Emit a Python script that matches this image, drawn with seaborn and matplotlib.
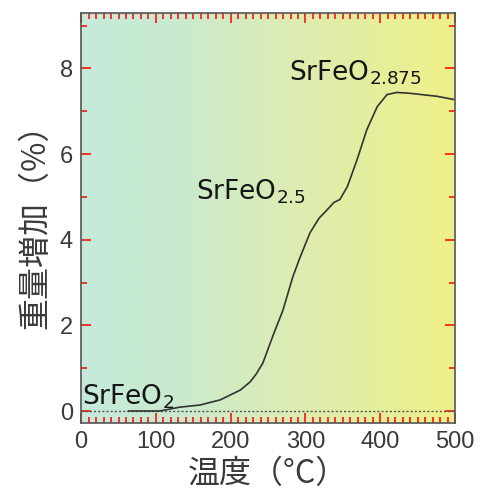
import numpy as np
import matplotlib
matplotlib.use('Agg')
import matplotlib.pyplot as plt
import seaborn as sns
from matplotlib.colors import LinearSegmentedColormap
from matplotlib.ticker import MultipleLocator

# TG curve
temp = [63, 80, 105, 132, 159, 186, 213, 226, 234, 243, 257, 270, 283, 293, 306,
        318, 329, 338, 346, 356, 369, 382, 396, 409, 422, 440, 476, 500]
gain = [0, 0, 0, 0.09, 0.14, 0.26, 0.49, 0.68, 0.86, 1.12, 1.78, 2.36, 3.13, 3.6, 4.16,
        4.50, 4.70, 4.87, 4.94, 5.24, 5.87, 6.57, 7.11, 7.39, 7.44, 7.42, 7.35, 7.27]

# phase labels: (text, x, y)
phase_text = ["SrFeO$_\\mathregular{2}$", "SrFeO$_\\mathregular{2.5}$", "SrFeO$_\\mathregular{2.875}$"]
phase_x = [1, 154, 278]
phase_y = [0.16, 4.95, 7.72]

xticks = [0, 100, 200, 300, 400, 500]
yticks = [0, 2, 4, 6, 8]

sns.set_theme(style="ticks", rc={"xtick.direction": "in", "ytick.direction": "in"})
plt.rcParams['font.family'] = ['Liberation Sans', 'Noto Sans CJK JP', 'DejaVu Sans']
plt.rcParams['mathtext.fontset'] = 'dejavusans'

fig = plt.figure(figsize=(4.8, 4.93), dpi=100)
rect = [0.169, 0.142, 0.779, 0.832]

# horizontal background gradient on its own axes underneath
bg_ax = fig.add_axes(rect, zorder=0)
bg = LinearSegmentedColormap.from_list(
    "bg", [(0, "#c6eadb"), (0.25, "#c9eacf"), (0.55, "#dcecb4"), (1, "#eef088")])
bg_ax.imshow(np.linspace(0, 1, 256)[None, :], cmap=bg, aspect='auto')
bg_ax.axis('off')

ax = fig.add_axes(rect, zorder=1)
ax.set_facecolor('none')

ax.axhline(0, color='#555555', lw=1.0, ls=(0, (1.5, 1.5)), zorder=1)
sns.lineplot(x=temp, y=gain, color='#333333', lw=1.2, ax=ax, zorder=2)

for t, x, y in zip(phase_text, phase_x, phase_y):
    ax.text(x, y, t, fontsize=19, color='#151515', family='DejaVu Sans', zorder=3)

ax.set_xlim(0, 500)
ax.set_ylim(-0.28, 9.3)
ax.set_xticks(xticks)
ax.set_yticks(yticks)
ax.xaxis.set_minor_locator(MultipleLocator(10))
ax.yaxis.set_minor_locator(MultipleLocator(1))
ax.tick_params(which='both', direction='in', bottom=True, left=True, top=True, right=True,
               color='red', width=1.1)
ax.tick_params(which='major', length=7, labelsize=17, labelcolor='#3a3a3a', pad=6)
ax.tick_params(which='minor', length=4)

for s in ax.spines.values():
    s.set_visible(True)
    s.set_color('#555555')
    s.set_linewidth(1.2)

ax.set_xlabel("温度（°C）", fontsize=23, color='#3a3a3a', labelpad=3,
              family=['Noto Sans CJK JP', 'DejaVu Sans'])
ax.set_ylabel("重量増加（%）", fontsize=23, color='#3a3a3a', labelpad=6,
              family=['Noto Sans CJK JP', 'DejaVu Sans'])

fig.savefig('out.png', dpi=100, facecolor='white')
